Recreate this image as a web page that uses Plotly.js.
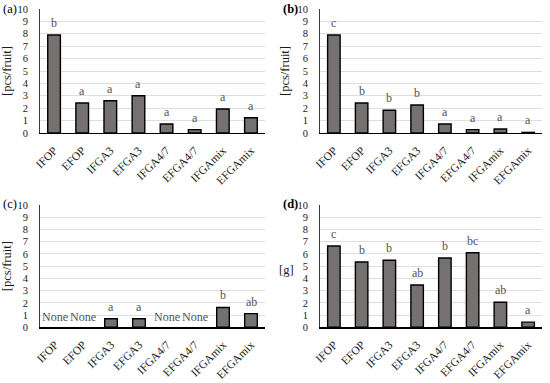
<!DOCTYPE html>
<html>
<head>
<meta charset="utf-8">
<script src="https://cdn.plot.ly/plotly-3.0.1.min.js"></script>
<style>html,body{margin:0;padding:0;background:#fff}#chart{width:550px;height:383px}</style>
</head>
<body>
<div id="chart"></div>
<script>
var categories = ['IFOP','EFOP','IFGA3','EFGA3','IFGA4/7','EFGA4/7','IFGAmix','EFGAmix'];
var valuesA = [7.9, 2.42, 2.6, 3.0, 0.73, 0.27, 1.94, 1.23];
var lettersA = ['b','a','a','a','a','a','a','a'];
var valuesB = [7.9, 2.42, 1.83, 2.26, 0.73, 0.27, 0.32, 0.05];
var lettersB = ['c','b','b','b','a','a','a','a'];
var valuesC = [null, null, 0.7, 0.7, null, null, 1.62, 1.12];
var lettersC = ['None','None','a','a','None','None','b','ab'];
var valuesD = [6.65, 5.34, 5.48, 3.46, 5.67, 6.1, 2.05, 0.42];
var lettersD = ['c','b','b','ab','b','bc','ab','a'];
var yTicks = [0,1,2,3,4,5,6,7,8,9,10];
var panelLabels = ['(a)','(b)','(c)','(d)'];
var yTitles = ['[pcs/fruit]','[pcs/fruit]','[pcs/fruit]','[g]'];

var serif = 'Liberation Serif';
var panels = [
  {vals: valuesA, letters: lettersA},
  {vals: valuesB, letters: lettersB},
  {vals: valuesC, letters: lettersC},
  {vals: valuesD, letters: lettersD}
];
var xDom = [[40/550, 265/550],[320/550, 542/550]];
var yDom = [[1-133/383, 1-9/383],[1-327.3/383, 1-205/383]];

var traces = [], annotations = [];
var layout = {
  width: 550, height: 383,
  margin: {l:0, r:0, t:0, b:0},
  paper_bgcolor: '#fff', plot_bgcolor: '#fff',
  showlegend: false,
  bargap: 0.55,
  font: {family: serif, size: 11, color: '#262626'}
};
panels.forEach(function(p, i){
  var s = i === 0 ? '' : String(i+1);
  var col = i % 2, row = Math.floor(i/2);
  traces.push({
    type: 'bar', x: categories, y: p.vals,
    xaxis: 'x'+s, yaxis: 'y'+s,
    marker: {color: '#767171', line: {color: '#000', width: 1.4}},
    hoverinfo: 'x+y'
  });
  layout['xaxis'+s] = {
    domain: xDom[col], anchor: 'y'+s, type: 'category',
    categoryarray: categories, tickangle: -45,
    showline: true, linecolor: '#000', linewidth: 1.3,
    ticks: 'outside', ticklen: 5, tickcolor: 'rgba(0,0,0,0)',
    tickfont: {family: serif, size: 11.5, color: '#1a1a1a'},
    showgrid: false, zeroline: false, fixedrange: true
  };
  var yax = {
    domain: yDom[row], anchor: 'x'+s, range: [0, 10],
    tickvals: yTicks, ticktext: yTicks.map(String),
    showline: true, linecolor: '#3a3a3a', linewidth: 1,
    ticks: 'outside', ticklen: 9, tickcolor: 'rgba(0,0,0,0)',
    tickfont: {family: serif, size: 10.5, color: '#1a1a1a'},
    showgrid: true, gridcolor: '#dedede', gridwidth: 1,
    zeroline: false, fixedrange: true
  };
  if (i < 3) {
    yax.title = {text: yTitles[i], font: {family: serif, size: 12.5, color: '#1a1a1a'}, standoff: 5};
  } else {
    annotations.push({
      xref: 'paper', yref: 'paper', x: 286/550, y: 1-270/383,
      xanchor: 'center', yanchor: 'middle', showarrow: false,
      text: yTitles[i], font: {family: serif, size: 12.5, color: '#1a1a1a'}
    });
  }
  layout['yaxis'+s] = yax;
  p.letters.forEach(function(t, k){
    var v = p.vals[k];
    annotations.push({
      xref: 'x'+s, yref: 'y'+s, x: categories[k], y: v === null ? 0 : v,
      xanchor: 'center', yanchor: 'middle', yshift: v === null ? 10 : 12,
      showarrow: false, text: t,
      font: {family: serif, size: 12, color: '#555555'}
    });
  });
});
var labelPos = [[19, 9],[300, 9],[19, 204],[300, 204]];
panelLabels.forEach(function(t, i){
  annotations.push({
    xref: 'paper', yref: 'paper', x: labelPos[i][0]/550, y: 1-labelPos[i][1]/383,
    xanchor: 'right', yanchor: 'middle', showarrow: false,
    text: (i % 2 === 1) ? '<b>'+t+'</b>' : t,
    font: {family: serif, size: 12.5, color: '#000'}
  });
});
layout.annotations = annotations;
Plotly.newPlot('chart', traces, layout, {displayModeBar: false, staticPlot: true});
</script>
</body>
</html>
